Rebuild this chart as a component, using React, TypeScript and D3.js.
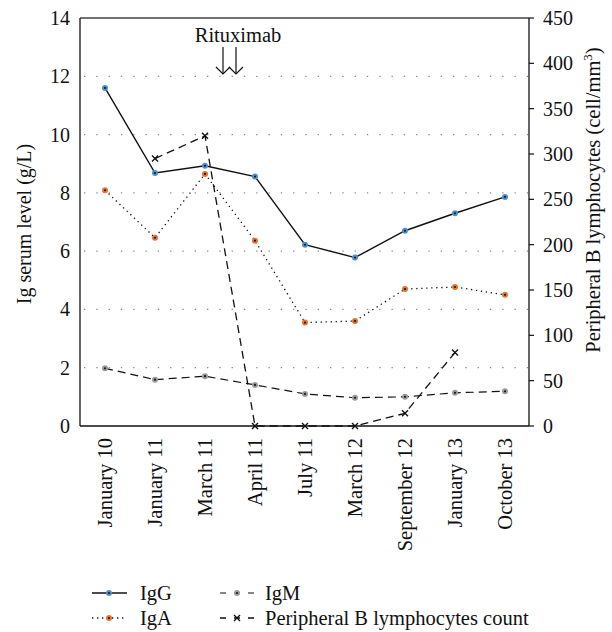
import React from 'react'
import * as d3 from 'd3'

const dates = ['January 10', 'January 11', 'March 11', 'April 11', 'July 11', 'March 12', 'September 12', 'January 13', 'October 13']
const igG = [11.6, 8.68, 8.93, 8.56, 6.22, 5.78, 6.7, 7.3, 7.86]
const igA = [8.09, 6.46, 8.65, 6.36, 3.55, 3.6, 4.7, 4.77, 4.5]
const igM = [1.98, 1.59, 1.71, 1.41, 1.1, 0.97, 1.0, 1.14, 1.19]
const bCells: (number | null)[] = [null, 295, 320, 0, 0, 0, 14, 81, null]
const leftTicks = [0, 2, 4, 6, 8, 10, 12, 14]
const rightTicks = [0, 50, 100, 150, 200, 250, 300, 350, 400, 450]

const W = 612
const H = 632
const font = '"Liberation Serif", "Times New Roman", serif'

export default function App () {
  const left = 80
  const right = 529
  const top = 18
  const bottom = 426
  const x = d3.scaleBand<string>().domain(dates).range([left, right + 1])
  const cx = (d: string) => (x(d) as number) + x.bandwidth() / 2
  const yL = d3.scaleLinear().domain([0, 14]).range([bottom, top])
  const yR = d3.scaleLinear().domain([0, 450]).range([bottom, top])

  const lineL = d3.line<number>().x((_, i) => cx(dates[i])).y(v => yL(v))
  const lineR = d3.line<number | null>()
    .defined(v => v !== null)
    .x((_, i) => cx(dates[i]))
    .y(v => yR(v as number))

  const dot = (px: number, py: number, color: string, key: string | number) => (
    <g key={key}>
      <circle cx={px} cy={py} r={3} fill={color} />
      <circle cx={px} cy={py} r={1.1} fill='#1a1a2a' />
    </g>
  )
  const cross = (px: number, py: number, key: string | number) => (
    <path key={key} d={`M${px - 3},${py - 3}L${px + 3},${py + 3}M${px - 3},${py + 3}L${px + 3},${py - 3}`}
      stroke='#111' strokeWidth={1.4} />
  )

  const arrow = (ax: number) => (
    <g key={ax} stroke='#111' strokeWidth={1.2} fill='none'>
      <line x1={ax} y1={47} x2={ax} y2={74} />
      <path d={`M${ax - 7},${67}L${ax},${74}L${ax + 7},${67}`} />
    </g>
  )

  const blue = '#4f8fd0'
  const orange = '#e8742c'
  const gray = '#9a9a9a'

  return (
    <svg width={W} height={H} style={{ position: 'absolute', left: 0, top: 0, background: '#fff' }}
      fontFamily={font}>
      {/* grid */}
      <g>
        {leftTicks.filter(t => t > 0 && t < 14).map(t => (
          <line key={t} x1={left + 4} x2={right} y1={yL(t)} y2={yL(t)}
            stroke='#888' strokeWidth={1.2} strokeDasharray='1.3,11' />
        ))}
      </g>
      {/* frame */}
      <line x1={left} x2={right} y1={top} y2={top} stroke='#444' strokeWidth={1.5} />
      <line x1={left} x2={left} y1={top} y2={bottom} stroke='#111' strokeWidth={1.3} />
      <line x1={right} x2={right} y1={top} y2={bottom} stroke='#111' strokeWidth={1.3} />
      <line x1={left} x2={right} y1={bottom} y2={bottom} stroke='#111' strokeWidth={1.3} />

      {/* left axis */}
      <g fontSize={20} fill='#111' textAnchor='end'>
        {leftTicks.map(t => (
          <text key={t} x={70} y={yL(t)} dy='0.35em'>{t}</text>
        ))}
      </g>
      {/* right axis */}
      <g fontSize={20} fill='#111'>
        {rightTicks.map(t => (
          <g key={t}>
            <line x1={right} x2={right + 5} y1={yR(t)} y2={yR(t)} stroke='#111' strokeWidth={1.2} />
            <text x={right + 14} y={yR(t)} dy='0.35em'>{t}</text>
          </g>
        ))}
      </g>
      {/* x labels */}
      <g fontSize={20.5} fill='#111' textAnchor='end'>
        {dates.map(d => (
          <text key={d} transform={`translate(${cx(d) + 7},${bottom + 12}) rotate(-90)`}>{d}</text>
        ))}
      </g>
      {/* axis titles */}
      <text transform={`translate(31,224) rotate(-90)`} fontSize={20} fill='#111' textAnchor='middle'>
        Ig serum level (g/L)
      </text>
      <text transform={`translate(600,200) rotate(-90)`} fontSize={20.5} fill='#111' textAnchor='middle'>
        Peripheral B lymphocytes (cell/mm<tspan dy={-8} fontSize={13}>3</tspan><tspan dy={8}>)</tspan>
      </text>

      {/* series */}
      <path d={lineL(igM) as string} fill='none' stroke='#111' strokeWidth={1.2} strokeDasharray='8,5' />
      <path d={lineL(igA) as string} fill='none' stroke='#111' strokeWidth={1.3} strokeDasharray='1.3,3.7' />
      <path d={lineR(bCells) as string} fill='none' stroke='#111' strokeWidth={1.3} strokeDasharray='8,5' />
      <path d={lineL(igG) as string} fill='none' stroke='#111' strokeWidth={1.4} />
      {igM.map((v, i) => dot(cx(dates[i]), yL(v), gray, 'm' + i))}
      {igA.map((v, i) => dot(cx(dates[i]), yL(v), orange, 'a' + i))}
      {igG.map((v, i) => dot(cx(dates[i]), yL(v), blue, 'g' + i))}
      {bCells.map((v, i) => v === null ? null : cross(cx(dates[i]), yR(v), 'b' + i))}

      {/* Rituximab annotation */}
      <text x={238} y={42} fontSize={20.5} fill='#111' textAnchor='middle'>Rituximab</text>
      {[223, 236].map(arrow)}

      {/* legend */}
      <g fontSize={20.5} fill='#111'>
        <line x1={92} x2={127} y1={593} y2={593} stroke='#111' strokeWidth={1.4} />
        {dot(109, 593, blue, 'lg')}
        <text x={140} y={593} dy='0.35em'>IgG</text>
        <line x1={92} x2={127} y1={618} y2={618} stroke='#111' strokeWidth={1.3} strokeDasharray='1.3,3.7' />
        {dot(109, 618, orange, 'la')}
        <text x={140} y={618} dy='0.35em'>IgA</text>
        <line x1={220} x2={254} y1={593} y2={593} stroke='#111' strokeWidth={1.2} strokeDasharray='6,8' />
        {dot(237, 593, gray, 'lm')}
        <text x={265} y={593} dy='0.35em'>IgM</text>
        <line x1={220} x2={254} y1={618} y2={618} stroke='#111' strokeWidth={1.3} strokeDasharray='6,8' />
        {cross(237, 618, 'lb')}
        <text x={265} y={618} dy='0.35em'>Peripheral B lymphocytes count</text>
      </g>
    </svg>
  )
}
